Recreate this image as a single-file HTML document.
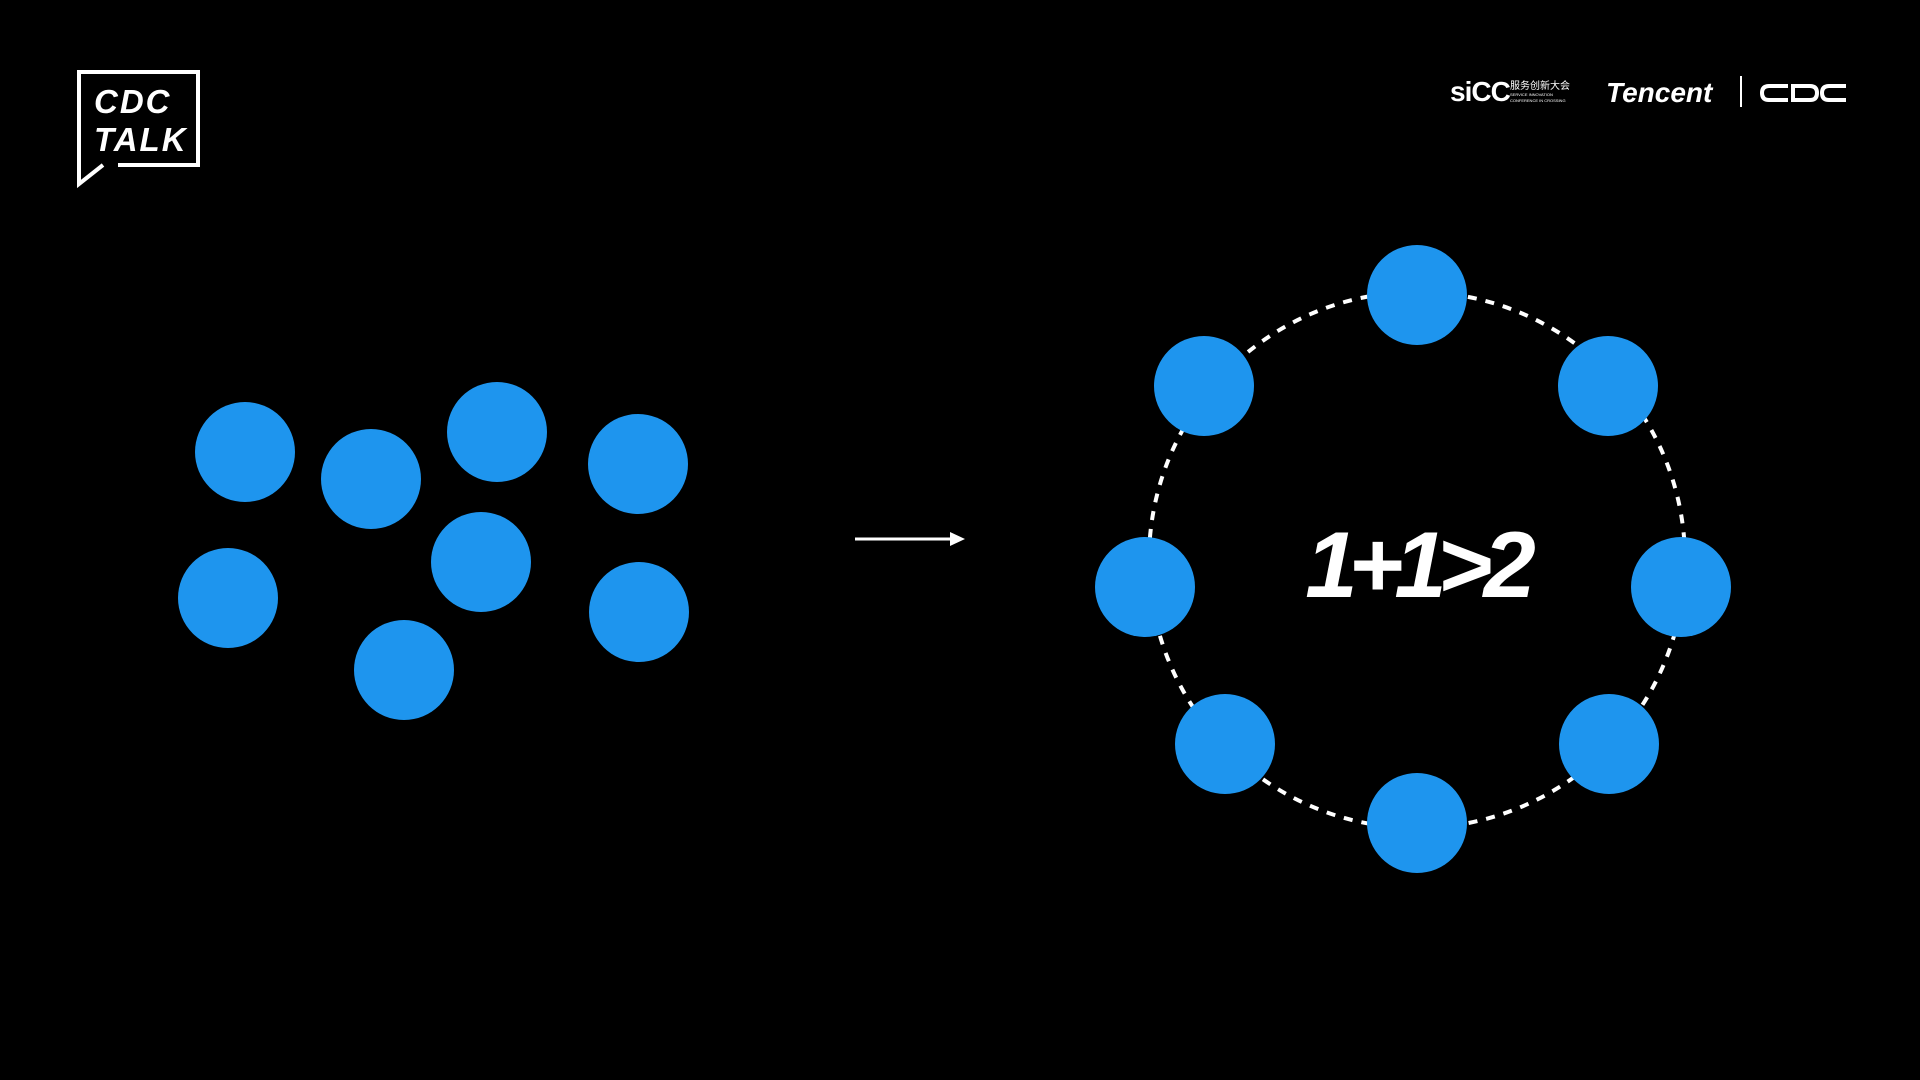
<!DOCTYPE html>
<html><head><meta charset="utf-8"><style>
html,body{margin:0;padding:0;background:#000;width:1920px;height:1080px;overflow:hidden}
svg{display:block}
</style></head><body>
<svg width="1920" height="1080" viewBox="0 0 1920 1080">
<g>
<path d="M118 165 H198 V72 H79 V184 L103 165" fill="none" stroke="#fff" stroke-width="4"/>
<text x="94" y="113" fill="#fff" font-family="Liberation Sans, sans-serif" font-style="italic" font-weight="bold" font-size="33" letter-spacing="2">CDC</text>
<text x="94" y="151" fill="#fff" font-family="Liberation Sans, sans-serif" font-style="italic" font-weight="bold" font-size="33" letter-spacing="2">TALK</text>
</g>
<g>
<g>
<text x="1450" y="101" fill="#fff" font-family="Liberation Sans, sans-serif" font-weight="bold" font-size="28" letter-spacing="-1">siCC</text>
<text x="1510" y="89" fill="#fff" font-family="Liberation Sans, 'Noto Sans CJK SC', sans-serif" font-size="10">服务创新大会</text>
<text x="1510" y="96" fill="#fff" font-family="Liberation Sans, sans-serif" font-size="4">SERVICE INNOVATION</text>
<text x="1510" y="102" fill="#fff" font-family="Liberation Sans, sans-serif" font-size="4">CONFERENCE IN CROSSING</text>
</g>
<text x="1606" y="102" fill="#fff" font-family="Liberation Sans, sans-serif" font-weight="bold" font-style="italic" font-size="28">Tencent</text>
<rect x="1740" y="76" width="2" height="31" fill="#fff"/>
<g fill="none" stroke="#fff" stroke-width="4">
<path d="M1788 86 H1769 Q1762 86 1762 93 Q1762 100 1769 100 H1788"/>
<path d="M1793 86 H1810 Q1817 86 1817 93 Q1817 100 1810 100 H1793 Z"/>
<path d="M1846 86 H1829 Q1822 86 1822 93 Q1822 100 1829 100 H1846"/>
</g>
</g>
<g id="scatter"></g>
<g>
<line x1="855" y1="539" x2="955" y2="539" stroke="#fff" stroke-width="3"/>
<polygon points="965,539 950,532 950,546" fill="#fff"/>
</g>
<circle cx="1417" cy="560" r="268" fill="none" stroke="#fff" stroke-width="4" stroke-dasharray="9 9"/>
<g id="ring"></g>
<text x="1416" y="597" text-anchor="middle" fill="#fff" font-family="Liberation Sans, sans-serif" font-weight="bold" font-style="italic" font-size="94" letter-spacing="-9">1+1&gt;2</text>
</svg>
<script>
const scatterX=[245,371,497,638,228,481,639,404];
const scatterY=[452,479,432,464,598,562,612,670];
const ringX=[1417,1204,1608,1145,1681,1225,1609,1417];
const ringY=[295,386,386,587,587,744,744,823];
const NS='http://www.w3.org/2000/svg';
function draw(gid,xs,ys,name){
  const g=document.getElementById(gid);
  xs.forEach((x,i)=>{
    const c=document.createElementNS(NS,'circle');
    c.setAttribute('cx',x);c.setAttribute('cy',ys[i]);c.setAttribute('r',50);
    c.setAttribute('fill','#1e95ee');
    
    
    g.appendChild(c);
  });
}
draw('scatter',scatterX,scatterY,'scattered-circle');
draw('ring',ringX,ringY,'ring-circle');
</script>
</body></html>
